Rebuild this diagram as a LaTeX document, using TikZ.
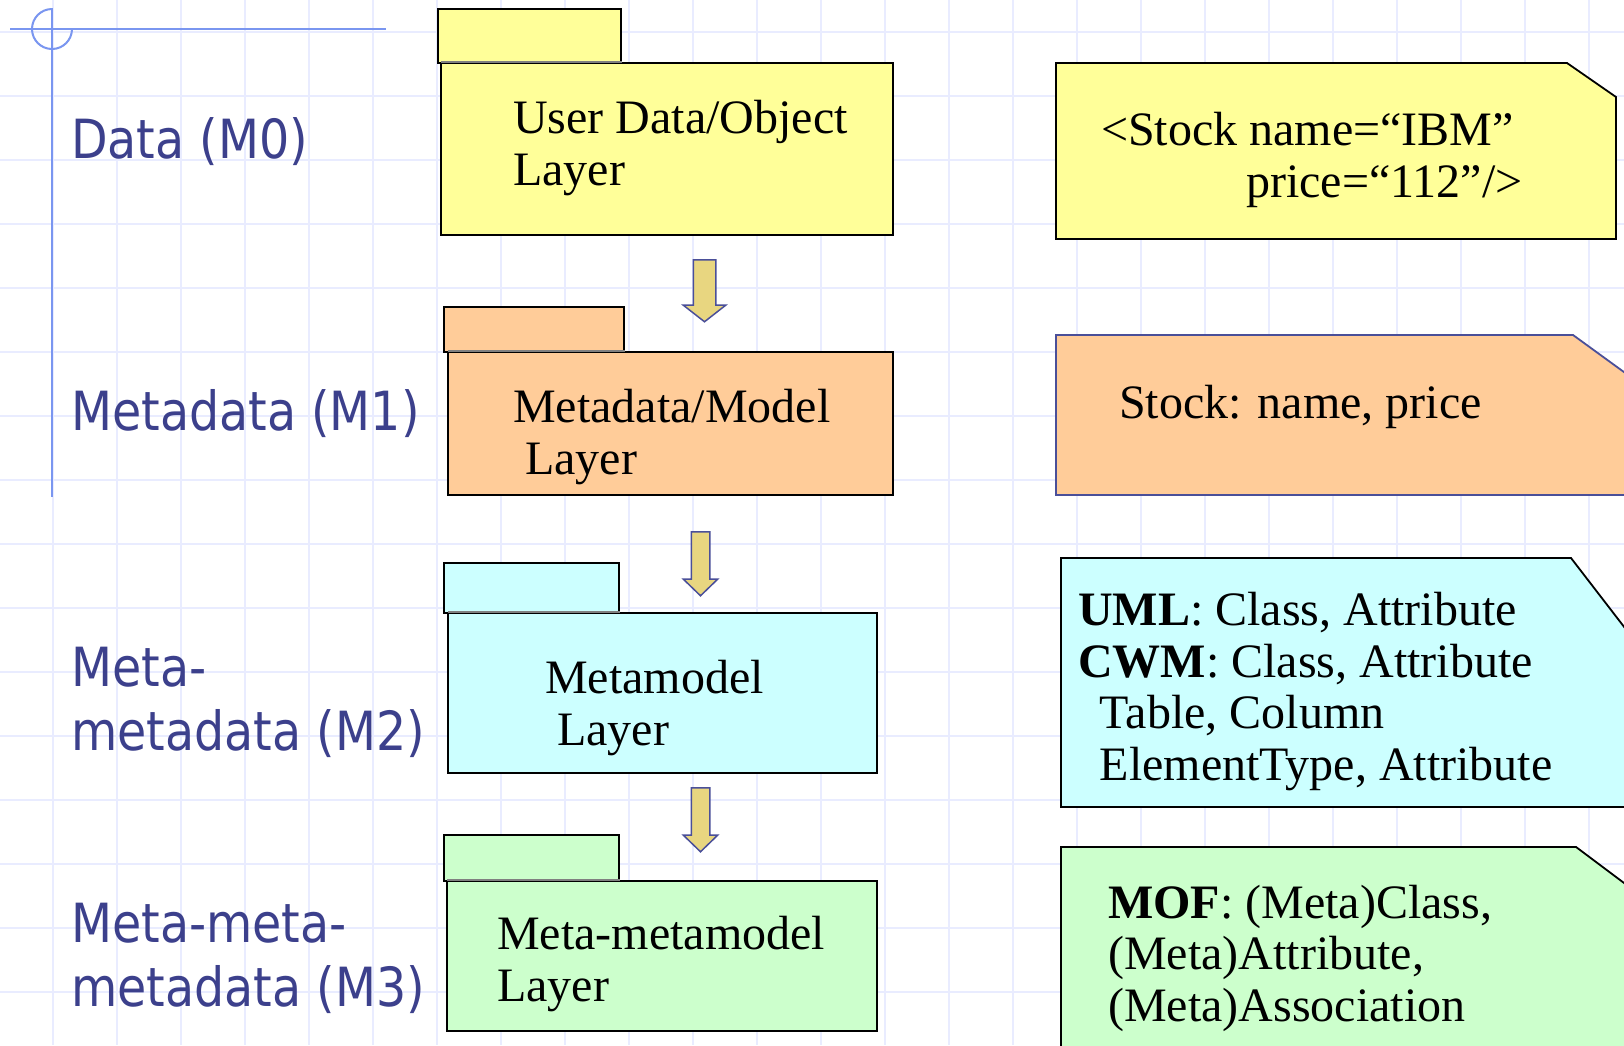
\documentclass[tikz,border=0pt]{standalone}
\usepackage{fontspec}
\setmainfont{Liberation Serif}
\newfontfamily\labelfont[FakeStretch=0.88]{DejaVu Sans}
\usetikzlibrary{shapes.arrows}

\definecolor{gridcol}{RGB}{233,236,255}
\definecolor{crosscol}{RGB}{122,150,240}
\definecolor{labelcol}{RGB}{60,64,140}
\definecolor{pkyellow}{RGB}{255,255,153}
\definecolor{pkorange}{RGB}{255,204,153}
\definecolor{pkcyan}{RGB}{204,255,255}
\definecolor{pkgreen}{RGB}{204,255,204}
\definecolor{arrowfill}{RGB}{232,214,128}
\definecolor{arrowline}{RGB}{74,79,153}

\begin{document}
\begin{tikzpicture}[x=1pt,y=-1pt,
	level/.style={font=\fontsize{54}{64}\selectfont\labelfont,text=labelcol,anchor=base west,inner sep=0pt,align=left},
	pktext/.style={font=\fontsize{48}{51.5}\selectfont,anchor=base west,inner sep=0pt,align=left},
	pk/.style={draw=black,line width=1.8pt,rectangle,inner sep=0pt},
	seam/.style={draw=gray,line width=1.8pt},
	note/.style={line width=1.8pt},
	downarrow/.style={single arrow,draw=arrowline,fill=arrowfill,line width=1.5pt,rotate=-90,anchor=tail,inner xsep=0pt,single arrow head indent=0pt}]
	\useasboundingbox (0,0) rectangle (1624,1045);
	\clip (0,0) rectangle (1624,1045);
	\fill[white] (0,0) rectangle (1624,1045);

	\foreach \x in {-11,53,...,1653} {
	     \draw[gridcol,line width=2pt] (\x,0) -- (\x,1045);
	}
	\foreach \y in {32,96,...,1056} {
	     \draw[gridcol,line width=2pt] (0,\y) -- (1624,\y);
	}

	% crosshair
	\draw[crosscol,line width=2pt] (10,29) -- (386,29);
	\draw[crosscol,line width=2pt] (52,8) -- (52,497);
	\draw[crosscol,line width=2pt] (52,9) arc[start angle=270,end angle=0,radius=20];

	% base of a node with two lines = baseline of its last line
	\node[level] (m0) at (71,158) {Data (M0)};
	\node[level] (m1) at (71,430) {Metadata (M1)};
	\node[level] (m2) at (71,750) {Meta-\\metadata (M2)};
	\node[level] (m3) at (71,1006) {Meta-meta-\\metadata (M3)};

	% packages
	\node[pk,fill=pkyellow,minimum width=183pt,minimum height=54pt] (tab1) at (529.5,36) {};
	\node[pk,fill=pkyellow,minimum width=452pt,minimum height=172pt] (body1) at (667,149) {};
	\draw[seam] ([xshift=1pt]body1.north west) -- (body1.north west -| tab1.east);
	\node[pktext] (txt1) at (513,185) {User Data/Object\\Layer};

	\node[pk,fill=pkorange,minimum width=180pt,minimum height=45pt] (tab2) at (534,329.5) {};
	\node[pk,fill=pkorange,minimum width=445pt,minimum height=143pt] (body2) at (670.5,423.5) {};
	\draw[seam] ([xshift=1pt]body2.north west) -- (body2.north west -| tab2.east);
	\node[pktext] (txt2) at (513,474) {Metadata/Model\\\hspace*{0.25em}Layer};

	\node[pk,fill=pkcyan,minimum width=175pt,minimum height=50pt] (tab3) at (531.5,588) {};
	\node[pk,fill=pkcyan,minimum width=429pt,minimum height=160pt] (body3) at (662.5,693) {};
	\draw[seam] ([xshift=1pt]body3.north west) -- (body3.north west -| tab3.east);
	\node[pktext] (txt3) at (545,745) {Metamodel\\\hspace*{0.25em}Layer};

	\node[pk,fill=pkgreen,minimum width=175pt,minimum height=46pt] (tab4) at (531.5,858) {};
	\node[pk,fill=pkgreen,minimum width=430pt,minimum height=150pt] (body4) at (662,956) {};
	\draw[seam] ([xshift=1pt]body4.north west) -- (body4.north west -| tab4.east);
	\node[pktext] (txt4) at (497,1001) {Meta-metamodel\\Layer};

	% arrows
	\node[downarrow,minimum height=62pt,inner ysep=10.5pt,single arrow head extend=10pt,single arrow tip angle=104] (arr1) at (704.5,259) {};
	\node[downarrow,minimum height=64pt,inner ysep=8.5pt,single arrow head extend=8pt,single arrow tip angle=92] (arr2) at (700.5,531) {};
	\node[downarrow,minimum height=64pt,inner ysep=8.5pt,single arrow head extend=8pt,single arrow tip angle=92] (arr3) at (700.5,787) {};

	% notes
	\filldraw[note,fill=pkyellow,draw=black] (1056,63) -- (1567,63) -- (1616,97) -- (1616,239) -- (1056,239) -- cycle;
	\node[pktext] (note1) at (1101,197) {<Stock name=“IBM”\\\hspace*{145pt}price=“112”/>};

	\filldraw[note,fill=pkorange,draw=arrowline] (1056,335) -- (1573,335) -- (1628,375) -- (1628,495) -- (1056,495) -- cycle;
	\node[pktext] (note2) at (1119,418) {Stock: name, price};

	\filldraw[note,fill=pkcyan,draw=black] (1061,558) -- (1571,558) -- (1628,632) -- (1628,807) -- (1061,807) -- cycle;
	\node[pktext] (note3) at (1078,780) {\textbf{UML}: Class, Attribute\\\textbf{CWM}: Class, Attribute\\\hspace*{0.45em}Table, Column\\\hspace*{0.45em}ElementType, Attribute};

	\filldraw[note,fill=pkgreen,draw=black] (1061,847) -- (1576,847) -- (1628,886) -- (1628,1050) -- (1061,1050) -- cycle;
	\node[pktext] (note4) at (1108,1021) {\textbf{MOF}: (Meta)Class,\\(Meta)Attribute,\\(Meta)Association};
\end{tikzpicture}
\end{document}
